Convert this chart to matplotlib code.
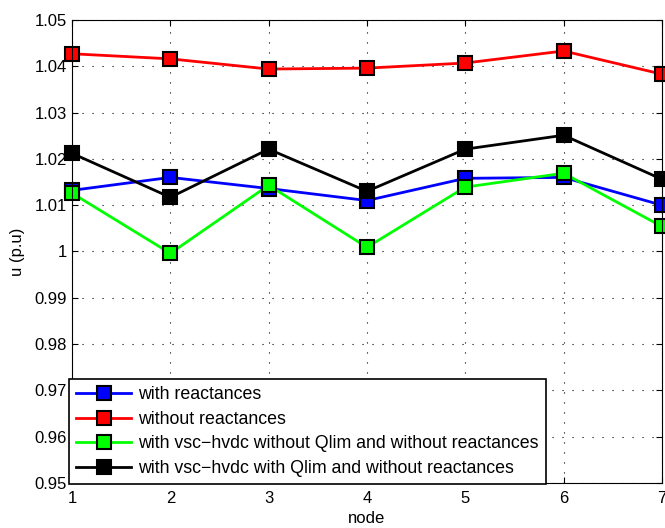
import matplotlib
matplotlib.use("Agg")
import matplotlib.pyplot as plt
from matplotlib.ticker import FuncFormatter

plt.rcParams['font.family'] = ['Liberation Sans', 'DejaVu Sans']

nodes = [1, 2, 3, 4, 5, 6, 7]
with_react = [1.0132, 1.0160, 1.0136, 1.0110, 1.0158, 1.0160, 1.0100]
without_react = [1.0427, 1.0416, 1.0394, 1.0396, 1.0407, 1.0433, 1.0383]
vsc_no_qlim = [1.0126, 0.9996, 1.0143, 1.0009, 1.0139, 1.0169, 1.0054]
vsc_qlim = [1.0212, 1.0117, 1.0221, 1.0130, 1.0221, 1.0251, 1.0156]

labels = ['with reactances', 'without reactances',
          'with vsc\u2212hvdc without Qlim and without reactances',
          'with vsc\u2212hvdc with Qlim and without reactances']
colors = ['#0000ff', '#ff0000', '#00ff00', '#000000']

fig = plt.figure(figsize=(6.65, 5.28), dpi=100)
ax = fig.add_axes([0.1083, 0.0852, 0.887, 0.877])

for ys, c, lab in zip([with_react, without_react, vsc_no_qlim, vsc_qlim], colors, labels):
    ax.plot(nodes, ys, color=c, lw=2, marker='s', markersize=9.5,
            markerfacecolor=c, markeredgecolor='k', markeredgewidth=1.5,
            label=lab, clip_on=False)

ax.set_xlim(1, 7)
ax.set_ylim(0.95, 1.05)
ax.set_yticks([0.95 + 0.01 * i for i in range(11)])
ax.yaxis.set_major_formatter(FuncFormatter(lambda v, p: '%g' % round(v, 2)))
ax.grid(True, color='k', linestyle=(0, (1, 8)), linewidth=0.8)
ax.tick_params(direction='in', top=True, right=True, labelsize=12, length=4)
ax.tick_params(axis='x', pad=6)
ax.set_xlabel('node', fontsize=12, labelpad=3)
ax.set_ylabel('u (p.u)', fontsize=12, labelpad=7)

leg = ax.legend(loc='lower left', bbox_to_anchor=(-0.005, -0.002), borderaxespad=0,
                fontsize=12.8, handlelength=3.1, labelspacing=0.42, fancybox=False,
                framealpha=1, edgecolor='k', borderpad=0.4, handletextpad=0.4)
leg.get_frame().set_linewidth(1.2)
leg.set_zorder(5)

fig.savefig('out.png', dpi=100)
